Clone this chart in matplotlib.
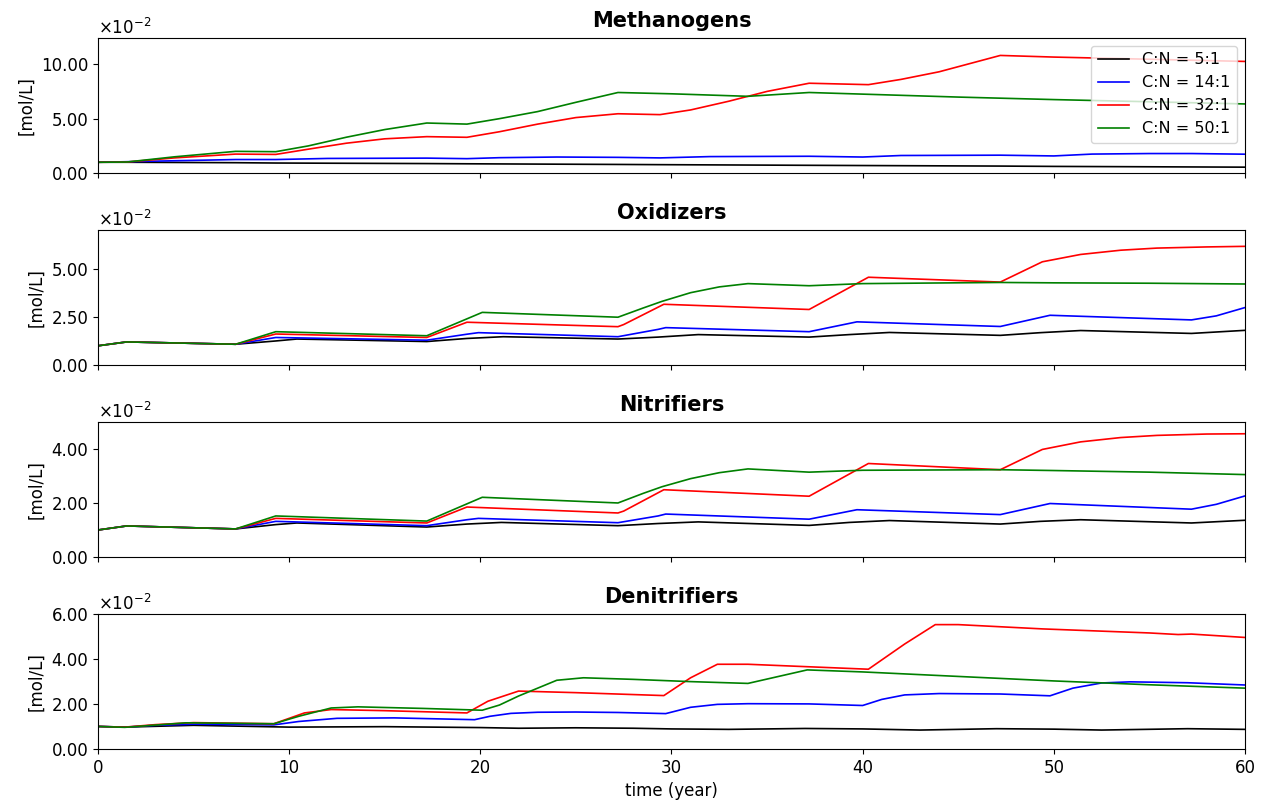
import numpy as np
import matplotlib.pyplot as plt
from matplotlib.ticker import ScalarFormatter

# biomass per C:N ratio, (time [year], concentration [x1e-2 mol/L])
meth_5 = [(0, 1.0), (1.5, 1.0), (7.2, 0.96), (9.3, 0.93), (17.2, 0.88), (19.3, 0.86),
          (27.2, 0.8), (29.4, 0.78), (37.2, 0.72), (40, 0.7), (47.2, 0.65), (50, 0.62),
          (57.2, 0.57), (60, 0.55)]
meth_14 = [(0, 1.0), (1.5, 1.05), (7.2, 1.25), (9.3, 1.25), (12, 1.35), (17.2, 1.38),
           (19.3, 1.33), (21, 1.42), (24, 1.48), (27.2, 1.45), (29.4, 1.40), (32, 1.52),
           (37.2, 1.55), (40, 1.48), (42, 1.62), (47.2, 1.65), (50, 1.58), (52, 1.75),
           (55, 1.8), (57.2, 1.8), (60, 1.74)]
meth_32 = [(0, 1.0), (1.5, 1.02), (4, 1.4), (7.2, 1.75), (9.3, 1.72), (11, 2.2), (13, 2.75),
           (15, 3.15), (17.2, 3.35), (19.3, 3.29), (21, 3.8), (23, 4.5), (25, 5.1),
           (27.2, 5.45), (29.4, 5.37), (31, 5.8), (33, 6.6), (35, 7.5), (37.2, 8.25),
           (40.3, 8.12), (42, 8.6), (44, 9.3), (47.2, 10.8), (50, 10.65), (55, 10.45),
           (60, 10.25)]
meth_50 = [(0, 1.0), (1.5, 1.02), (4, 1.5), (7.2, 2.0), (9.3, 1.97), (11, 2.5), (13, 3.3),
           (15, 4.0), (17.2, 4.6), (19.3, 4.5), (21, 5.0), (23, 5.65), (25, 6.5),
           (27.2, 7.4), (30, 7.28), (34, 7.05), (37.2, 7.4), (40, 7.25), (45, 6.98),
           (50, 6.75), (55, 6.55), (60, 6.35)]

oxid_5 = [(0, 1.0), (1.5, 1.2), (7.2, 1.08), (9.3, 1.25), (10.4, 1.35), (17.2, 1.22),
          (19.3, 1.38), (21.2, 1.47), (27.2, 1.35), (29.3, 1.45), (31.4, 1.58), (37.2, 1.45),
          (39.3, 1.58), (41.4, 1.69), (47.2, 1.54), (49.3, 1.68), (51.4, 1.79), (57.2, 1.64),
          (60, 1.8)]
oxid_14 = [(0, 1.0), (1.5, 1.2), (7.2, 1.08), (9.3, 1.43), (17.2, 1.29), (19.3, 1.6),
           (19.9, 1.68), (27.2, 1.47), (29.3, 1.85), (29.7, 1.94), (37.2, 1.73), (39.7, 2.24),
           (47.2, 2.0), (49.8, 2.58), (57.2, 2.34), (58.5, 2.55), (60, 2.98)]
oxid_32 = [(0, 1.0), (1.5, 1.2), (7.2, 1.08), (9.3, 1.61), (17.2, 1.43), (19.3, 2.22),
           (27.2, 1.99), (27.5, 2.1), (29.6, 3.15), (37.2, 2.88), (40.3, 4.55), (47.2, 4.3),
           (49.4, 5.35), (51.4, 5.73), (53.5, 5.95), (55.4, 6.06), (58, 6.12), (60, 6.15)]
oxid_50 = [(0, 1.0), (1.5, 1.2), (7.2, 1.08), (9.3, 1.73), (17.2, 1.52), (20.1, 2.73),
           (27.2, 2.48), (28.5, 2.95), (29.5, 3.3), (31, 3.75), (32.5, 4.05), (34, 4.22),
           (37.2, 4.11), (40, 4.22), (47.2, 4.28), (50, 4.26), (55, 4.24), (60, 4.2)]

nitr_5 = [(0, 1.0), (1.5, 1.15), (7.2, 1.04), (9.3, 1.2), (10.4, 1.26), (17.2, 1.11),
          (19.3, 1.22), (21.1, 1.28), (27.2, 1.16), (29.3, 1.24), (31.4, 1.30), (37.2, 1.17),
          (39.3, 1.28), (41.4, 1.35), (47.2, 1.22), (49.3, 1.32), (51.4, 1.38), (57.2, 1.26),
          (60, 1.36)]
nitr_14 = [(0, 1.0), (1.5, 1.15), (7.2, 1.04), (9.3, 1.32), (17.2, 1.16), (19.3, 1.38),
           (19.9, 1.43), (27.2, 1.27), (29.3, 1.52), (29.7, 1.59), (37.2, 1.40), (39.7, 1.75),
           (47.2, 1.57), (49.8, 1.98), (57.2, 1.77), (58.5, 1.95), (60, 2.26)]
nitr_32 = [(0, 1.0), (1.5, 1.15), (7.2, 1.04), (9.3, 1.43), (17.2, 1.26), (19.3, 1.85),
           (27.2, 1.63), (27.5, 1.7), (29.6, 2.49), (37.2, 2.25), (40.3, 3.46), (47.2, 3.23),
           (49.4, 3.98), (51.4, 4.26), (53.5, 4.42), (55.4, 4.5), (58, 4.55), (60, 4.56)]
nitr_50 = [(0, 1.0), (1.5, 1.15), (7.2, 1.04), (9.3, 1.52), (17.2, 1.33), (20.1, 2.21),
           (27.2, 2.0), (28.5, 2.35), (29.5, 2.6), (31, 2.9), (32.5, 3.12), (34, 3.26),
           (37.2, 3.14), (40, 3.21), (47.2, 3.23), (50, 3.2), (55, 3.14), (60, 3.05)]

deni_5 = [(0, 1.0), (1.4, 0.97), (5, 1.05), (10, 0.97), (15, 0.99), (20, 0.95), (22, 0.92),
          (25, 0.94), (28, 0.92), (30, 0.89), (33, 0.87), (37, 0.91), (40, 0.89), (43, 0.84),
          (47, 0.9), (50, 0.88), (52.5, 0.84), (57, 0.9), (60, 0.87)]
deni_14 = [(0, 1.0), (1.4, 0.97), (3, 1.05), (5, 1.1), (9.2, 1.07), (10.5, 1.22), (12.5, 1.36),
           (15.5, 1.38), (19.7, 1.3), (20.5, 1.45), (21.6, 1.58), (23, 1.63), (25, 1.64),
           (27.2, 1.62), (29.7, 1.57), (31, 1.85), (32.4, 1.98), (34, 2.01), (37.2, 2.0),
           (40, 1.93), (41, 2.2), (42.2, 2.4), (44, 2.46), (47.2, 2.44), (49.8, 2.36),
           (51, 2.7), (52.5, 2.93), (54, 2.98), (57, 2.94), (60, 2.84)]
deni_32 = [(0, 1.0), (1.4, 0.97), (3, 1.08), (5, 1.17), (9.2, 1.12), (10.8, 1.6), (12.2, 1.75),
           (15, 1.7), (19.3, 1.6), (20.4, 2.12), (22, 2.57), (25, 2.5), (29.6, 2.37),
           (31, 3.16), (32.4, 3.76), (34, 3.76), (40.3, 3.54), (42.2, 4.66), (43.8, 5.52),
           (45, 5.52), (49.4, 5.33), (55, 5.15), (56.5, 5.08), (57.2, 5.1), (60, 4.95)]
deni_50 = [(0, 1.0), (1.4, 0.96), (3, 1.06), (4.6, 1.16), (9.2, 1.12), (10.5, 1.45),
           (12.2, 1.82), (13.6, 1.87), (17, 1.8), (20.1, 1.72), (21, 1.95), (22, 2.35),
           (23, 2.7), (24, 3.05), (25.4, 3.16), (28, 3.09), (31, 2.99), (34, 2.91),
           (37.1, 3.51), (40, 3.42), (45, 3.22), (50, 3.02), (55, 2.85), (60, 2.7)]

labels = ['C:N = 5:1', 'C:N = 14:1', 'C:N = 32:1', 'C:N = 50:1']
colors = ['black', 'blue', 'red', 'green']
titles = ['Methanogens', 'Oxidizers', 'Nitrifiers', 'Denitrifiers']
groups = [[meth_5, meth_14, meth_32, meth_50],
          [oxid_5, oxid_14, oxid_32, oxid_50],
          [nitr_5, nitr_14, nitr_32, nitr_50],
          [deni_5, deni_14, deni_32, deni_50]]
ylims = [0.124, 0.07, 0.05, 0.06]
yticks = [[0, 0.05, 0.10], [0, 0.025, 0.05], [0, 0.02, 0.04], [0, 0.02, 0.04, 0.06]]


class TwoDecimal(ScalarFormatter):
    def _set_format(self):
        self.format = '%.2f'


fig, axes = plt.subplots(4, 1, figsize=(12.66, 8.05), dpi=100, sharex=True)
fig.subplots_adjust(left=0.0774, right=0.9834, bottom=0.0696, top=0.9528, hspace=0.42)

for ax, title, group, ytop, ticks in zip(axes, titles, groups, ylims, yticks):
    for data, c, lab in zip(group, colors, labels):
        t, v = np.array(data).T
        ax.plot(t, v * 1e-2, color=c, lw=1.2, label=lab)
    ax.set_title(title, fontsize=15, fontweight='bold', pad=8)
    ax.set_ylabel('[mol/L]', fontsize=12)
    ax.set_xlim(0, 60)
    ax.set_ylim(0, ytop)
    ax.set_yticks(ticks)
    fmt = TwoDecimal(useMathText=True)
    fmt.set_powerlimits((-2, -2))
    ax.yaxis.set_major_formatter(fmt)
    ax.yaxis.get_offset_text().set_fontsize(12)
    ax.tick_params(labelsize=12)

axes[0].legend(loc='upper right', fontsize=11.5)
axes[-1].set_xlabel('time (year)', fontsize=12)

plt.savefig('out.png', dpi=100)
